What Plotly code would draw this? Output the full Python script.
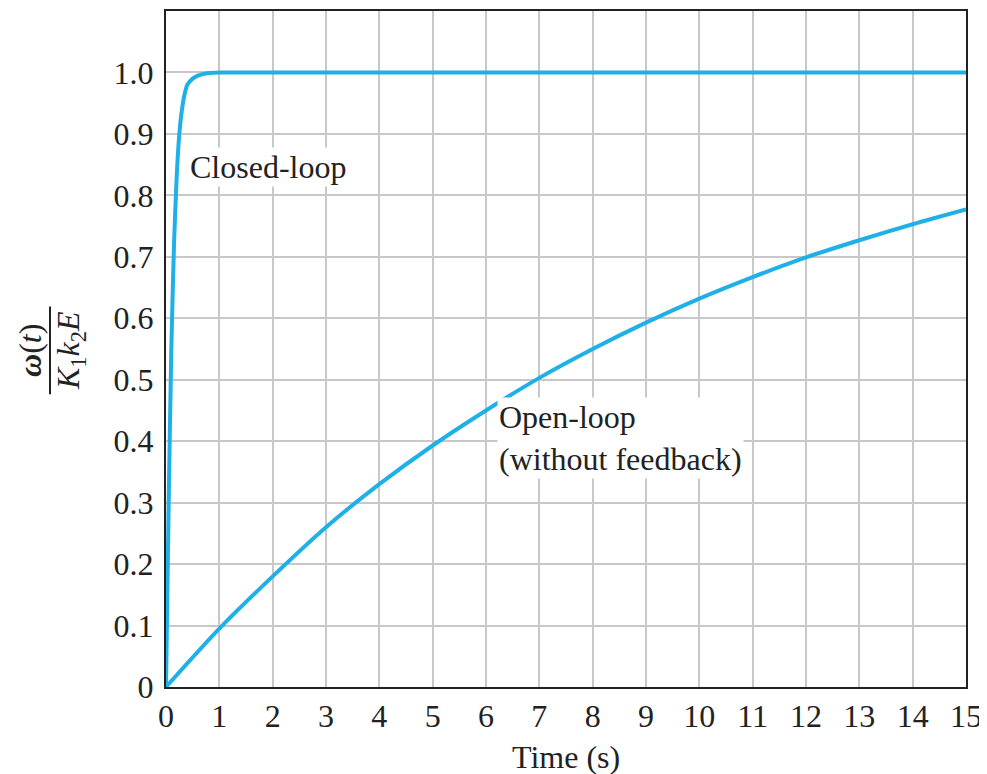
import plotly.graph_objects as go

# Data
closed_t = [0, 0.05, 0.1, 0.15, 0.2, 0.25, 0.3, 0.35, 0.4, 0.5, 0.6, 0.8, 1.0, 15]
closed_y = [0, 0.30, 0.55, 0.72, 0.83, 0.90, 0.94, 0.965, 0.98, 0.99, 0.995, 0.999, 1.0, 1.0]

open_t = [0, 1, 2, 3, 4, 5, 6, 7, 8, 9, 10, 11, 12, 13, 14, 15]
open_y = [0, 0.095, 0.18, 0.26, 0.33, 0.393, 0.45, 0.503, 0.55, 0.593, 0.632, 0.667, 0.699, 0.727, 0.753, 0.777]

x_ticks = list(range(0, 16))
x_ticktext = [str(v) for v in x_ticks]
y_ticks = [0, 0.1, 0.2, 0.3, 0.4, 0.5, 0.6, 0.7, 0.8, 0.9, 1.0]
y_ticktext = ["0", "0.1", "0.2", "0.3", "0.4", "0.5", "0.6", "0.7", "0.8", "0.9", "1.0"]

LINE = "#1fb0e8"
FONT = "Liberation Serif"
FS = 32
TXT = "#222"

fig = go.Figure()
fig.add_trace(go.Scatter(x=open_t, y=open_y, mode="lines", line=dict(color=LINE, width=4, shape="spline", smoothing=0.8), showlegend=False))
fig.add_trace(go.Scatter(x=closed_t, y=closed_y, mode="lines", line=dict(color=LINE, width=4, shape="spline", smoothing=0.6), showlegend=False))

fig.update_layout(
    width=979, height=766,
    margin=dict(l=158, r=21, t=1, b=87),
    paper_bgcolor="white", plot_bgcolor="white",
    font=dict(family=FONT, size=FS, color=TXT),
    xaxis=dict(range=[0, 15], tickvals=x_ticks, ticktext=x_ticktext, showgrid=True,
               gridcolor="#c8c8c8", gridwidth=2, showline=True, linecolor=TXT, linewidth=2,
               mirror=True, zeroline=False, ticks="", ticklabelstandoff=0,
               tickfont=dict(family=FONT, size=FS, color=TXT)),
    yaxis=dict(range=[0, 1.1], tickvals=y_ticks, ticktext=y_ticktext, showgrid=True,
               gridcolor="#c8c8c8", gridwidth=2, showline=True, linecolor=TXT, linewidth=2,
               mirror=True, zeroline=False, ticks="", ticklabelstandoff=4,
               tickfont=dict(family=FONT, size=FS, color=TXT)),
    annotations=[
        dict(x=0.42, y=0.846, xref="x", yref="y", text="Closed-loop", showarrow=False,
             xanchor="left", yanchor="middle", bgcolor="white", borderpad=1,
             font=dict(family=FONT, size=FS, color=TXT)),
        dict(x=6.2, y=0.405, xref="x", yref="y", text="Open-loop<br>(without feedback)", showarrow=False,
             xanchor="left", yanchor="middle", align="left", bgcolor="white", borderpad=1,
             font=dict(family=FONT, size=FS, color=TXT)),
        dict(x=0.5, y=0, xref="paper", yref="paper", text="Time (s)", showarrow=False,
             xanchor="center", yanchor="middle", yshift=-70,
             font=dict(family=FONT, size=FS, color=TXT)),
        dict(x=0, y=0.5, xref="paper", yref="paper", text="<b><i>ω</i></b>(<i>t</i>)", showarrow=False,
             textangle=-90, xanchor="center", yanchor="middle", xshift=-136, yshift=-2,
             font=dict(family=FONT, size=FS, color=TXT)),
        dict(x=0, y=0.5, xref="paper", yref="paper", text="<i>K</i><sub>1</sub><i>k</i><sub>2</sub><i>E</i>", showarrow=False,
             textangle=-90, xanchor="center", yanchor="middle", xshift=-96, yshift=-2,
             font=dict(family=FONT, size=FS, color=TXT)),
    ],
    shapes=[
        dict(type="line", xref="paper", yref="paper", x0=-0.145, x1=-0.145, y0=0.433, y1=0.563,
             line=dict(color=TXT, width=2)),
    ],
)

fig.write_html("out.html")
